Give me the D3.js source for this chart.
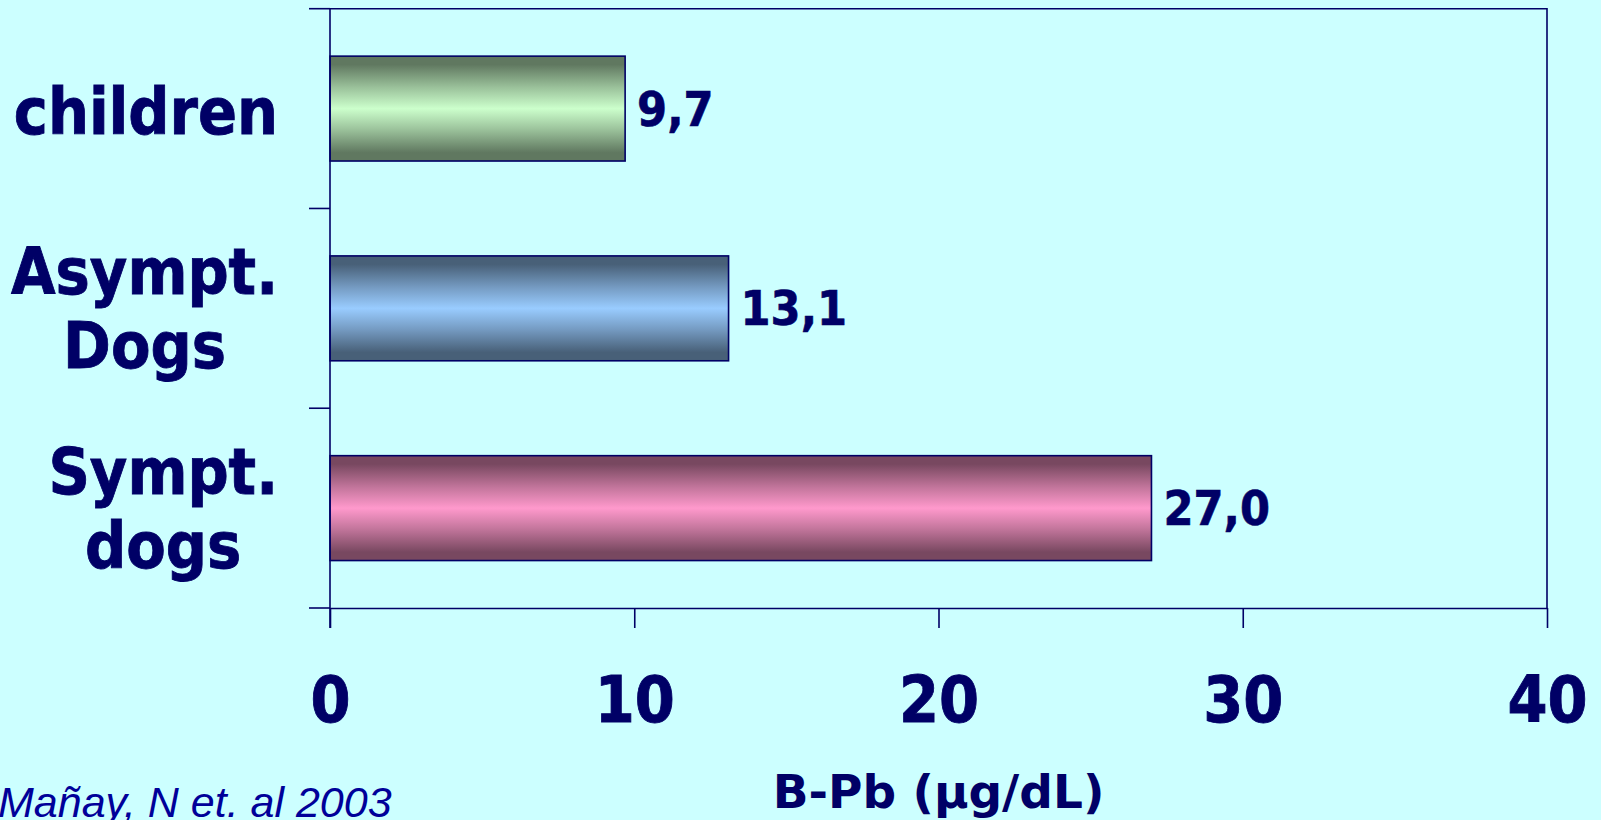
<!DOCTYPE html>
<html>
<head>
<meta charset="utf-8">
<script src="https://cdn.jsdelivr.net/npm/d3@7"></script>
<style>
  html, body { margin: 0; padding: 0; background: #ccffff; }
  svg { display: block; }
</style>
</head>
<body>
<svg id="chart" width="1601" height="820"></svg>
<script>
// Blood lead levels by group
const categories = ["children", "Asympt.\nDogs", "Sympt.\ndogs"];
const values = [9.7, 13.1, 27.0];
const lightColors = ["#ccffcc", "#99ccff", "#ff99cc"];
const xTicks = [0, 10, 20, 30, 40];
const axisTitle = "B-Pb (µg/dL)";
const citation = "Mañay, N et. al 2003";

const ink = "#000066";
const fontBold = "'DejaVu Sans Condensed', 'DejaVu Sans', Verdana, sans-serif";
const fontWide = "'DejaVu Sans', Verdana, sans-serif";

const svg = d3.select("#chart");
const plot = { left: 330, right: 1547, top: 8.7, bottom: 608 };
const labelRight = 278;

const x = d3.scaleLinear().domain([0, 40]).range([plot.left, plot.right]);
const y = d3.scaleBand().domain(categories)
  .range([plot.top, plot.bottom])
  .paddingInner(0.475).paddingOuter(0.2375);

const commaFmt = d3.formatLocale({ decimal: ",", thousands: ".", grouping: [3], currency: ["", ""] }).format(".1f");

// Gradients: dark edges, light centre band
const defs = svg.append("defs");
lightColors.forEach((c, i) => {
  const light = d3.rgb(c);
  const dark = d3.rgb(light.r * 0.47, light.g * 0.47, light.b * 0.47);
  const mid = d3.interpolateRgb(dark, light)(0.55);
  const g = defs.append("linearGradient").attr("id", "grad" + i)
    .attr("x1", 0).attr("y1", 0).attr("x2", 0).attr("y2", 1);
  [[0, dark], [0.08, dark], [0.3, mid], [0.5, light], [0.7, mid], [0.92, dark], [1, dark]]
    .forEach(([o, col]) => g.append("stop").attr("offset", o).attr("stop-color", col));
});

// Frame (top and right edges)
svg.append("path")
  .attr("d", `M${plot.left},${plot.top}H${plot.right}V${plot.bottom}`)
  .attr("fill", "none").attr("stroke", ink).attr("stroke-width", 1.6);

// Bars
svg.append("g").selectAll("rect").data(values).join("rect")
  .attr("x", x(0))
  .attr("y", (d, i) => y(categories[i]))
  .attr("width", d => x(d) - x(0))
  .attr("height", y.bandwidth())
  .attr("fill", (d, i) => `url(#grad${i})`)
  .attr("stroke", ink).attr("stroke-width", 1.6);

// Value labels
svg.append("g").selectAll("text").data(values).join("text")
  .attr("x", d => x(d) + 12)
  .attr("y", (d, i) => y(categories[i]) + y.bandwidth() / 2 + 17)
  .attr("font-family", fontBold).attr("font-weight", "bold")
  .attr("font-size", 48).attr("fill", ink)
  .attr("stroke", ink).attr("stroke-width", 0.6)
  .text(d => commaFmt(d));

// Left axis line with ticks at category boundaries
const boundaries = d3.range(categories.length + 1).map(i => plot.top + i * y.step());
svg.append("line")
  .attr("x1", plot.left).attr("x2", plot.left)
  .attr("y1", plot.top).attr("y2", plot.bottom + 20)
  .attr("stroke", ink).attr("stroke-width", 1.6);
svg.append("g").selectAll("line").data(boundaries).join("line")
  .attr("x1", plot.left - 21).attr("x2", plot.left)
  .attr("y1", d => d).attr("y2", d => d)
  .attr("stroke", ink).attr("stroke-width", 1.6);

// Category labels: each block right-aligned to the axis, lines centred within it
const catG = svg.append("g")
  .attr("font-family", fontBold).attr("font-weight", "bold")
  .attr("font-size", 64).attr("fill", ink)
  .attr("stroke", ink).attr("stroke-width", 0.8)
  .attr("text-anchor", "middle");
categories.forEach(c => {
  const lines = c.split("\n");
  const cy = y(c) + y.bandwidth() / 2;
  const t = catG.append("text");
  const spans = lines.map((l, j) => t.append("tspan")
    .attr("y", lines.length === 1 ? cy + 25 : cy - 14 + j * 74)
    .text(l));
  const blockW = d3.max(spans, s => s.node().getComputedTextLength());
  spans.forEach(s => s.attr("x", labelRight - blockW / 2));
});

// Bottom axis
const xAxis = d3.axisBottom(x).tickValues(xTicks).tickSize(20).tickPadding(49).tickSizeOuter(0);
const gx = svg.append("g").attr("transform", `translate(0,${plot.bottom})`).call(xAxis);
gx.select(".domain").attr("stroke", ink).attr("stroke-width", 1.6);
gx.selectAll(".tick line").attr("stroke", ink).attr("stroke-width", 1.6);
gx.selectAll(".tick text")
  .attr("font-family", fontBold).attr("font-weight", "bold")
  .attr("font-size", 64).attr("fill", ink)
  .attr("stroke", ink).attr("stroke-width", 0.8);

// Axis title
svg.append("text")
  .attr("x", (plot.left + plot.right) / 2).attr("y", 808)
  .attr("text-anchor", "middle")
  .attr("font-family", fontWide).attr("font-weight", "bold")
  .attr("font-size", 47).attr("fill", ink)
  .text(axisTitle);

// Source note
svg.append("text")
  .attr("x", -2).attr("y", 817)
  .attr("font-family", "'Liberation Sans', Arial, sans-serif").attr("font-style", "italic")
  .attr("font-size", 43).attr("fill", "#000099")
  .text(citation);
</script>
</body>
</html>
